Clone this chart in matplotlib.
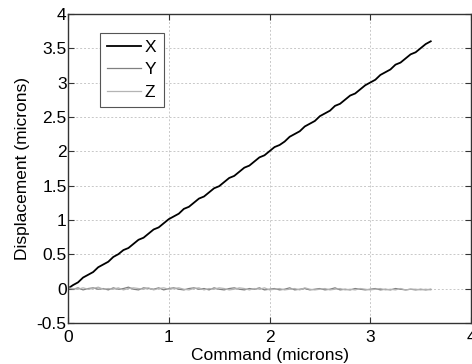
import matplotlib
matplotlib.use("Agg")
import matplotlib.pyplot as plt

plt.rcParams['font.family'] = ['Liberation Sans', 'DejaVu Sans']

# command in microns
command = [0.00, 0.05, 0.10, 0.15, 0.20, 0.25, 0.30, 0.35, 0.40, 0.45,
           0.50, 0.55, 0.60, 0.65, 0.70, 0.75, 0.80, 0.85, 0.90, 0.95,
           1.00, 1.05, 1.10, 1.15, 1.20, 1.25, 1.30, 1.35, 1.40, 1.45,
           1.50, 1.55, 1.60, 1.65, 1.70, 1.75, 1.80, 1.85, 1.90, 1.95,
           2.00, 2.05, 2.10, 2.15, 2.20, 2.25, 2.30, 2.35, 2.40, 2.45,
           2.50, 2.55, 2.60, 2.65, 2.70, 2.75, 2.80, 2.85, 2.90, 2.95,
           3.00, 3.05, 3.10, 3.15, 3.20, 3.25, 3.30, 3.35, 3.40, 3.45,
           3.50, 3.55, 3.60]

disp_x = [0.00, 0.05, 0.09, 0.16, 0.20, 0.24, 0.31, 0.35, 0.39, 0.46,
          0.50, 0.56, 0.59, 0.65, 0.71, 0.74, 0.80, 0.86, 0.89, 0.95,
          1.01, 1.05, 1.09, 1.16, 1.19, 1.25, 1.31, 1.34, 1.40, 1.46,
          1.49, 1.55, 1.61, 1.64, 1.70, 1.76, 1.79, 1.85, 1.91, 1.94,
          2.00, 2.06, 2.09, 2.14, 2.21, 2.25, 2.29, 2.36, 2.40, 2.44,
          2.51, 2.55, 2.59, 2.66, 2.69, 2.75, 2.81, 2.84, 2.90, 2.96,
          3.00, 3.04, 3.11, 3.15, 3.19, 3.26, 3.29, 3.35, 3.41, 3.44,
          3.50, 3.56, 3.60]

disp_y = [0.00, -0.01, 0.01, -0.02, 0.00, 0.01, -0.01, 0.00, -0.02, 0.01,
          -0.01, 0.00, 0.02, -0.01, -0.02, 0.01, 0.00, -0.01, 0.01, -0.02,
          0.00, 0.01, -0.01, -0.02, 0.00, 0.01, -0.01, 0.00, -0.02, 0.01,
          -0.01, -0.02, 0.00, 0.01, -0.01, -0.02, 0.00, -0.01, 0.01, -0.02,
          -0.01, 0.00, -0.02, -0.01, 0.01, -0.02, -0.01, 0.00, -0.02, -0.01,
          0.00, -0.02, -0.01, 0.01, -0.02, -0.01, -0.02, 0.00, -0.01, -0.02,
          -0.01, 0.00, -0.02, -0.01, -0.02, 0.00, -0.01, -0.02, -0.01, -0.02,
          -0.01, -0.02, -0.01]

disp_z = [0.01, 0.00, -0.01, 0.01, -0.01, 0.00, 0.02, -0.01, 0.00, -0.01,
          0.01, -0.02, 0.00, 0.01, 0.00, -0.01, 0.01, -0.02, 0.00, 0.01,
          -0.01, 0.00, 0.01, -0.01, -0.02, 0.00, 0.01, -0.02, 0.00, -0.01,
          0.01, 0.00, -0.02, -0.01, 0.01, 0.00, -0.02, 0.00, -0.01, 0.01,
          -0.02, -0.01, 0.00, -0.02, -0.01, 0.00, -0.02, 0.01, -0.01, -0.02,
          -0.01, 0.00, -0.02, -0.01, 0.00, -0.02, -0.01, -0.02, 0.00, -0.01,
          -0.02, -0.01, 0.00, -0.02, -0.01, -0.02, 0.00, -0.02, -0.01, -0.01,
          -0.02, -0.01, -0.02]

fig = plt.figure(figsize=(4.72, 3.64), dpi=100)
ax = fig.add_axes([0.144, 0.113, 0.854, 0.849])

ax.plot(command, disp_x, color="black", lw=1.3, label="X")
ax.plot(command, disp_y, color="#808080", lw=0.9, label="Y")
ax.plot(command, disp_z, color="#b4b4b4", lw=0.9, label="Z")

ax.set_xlim(0, 4)
ax.set_ylim(-0.5, 4)
ax.set_xticks([0, 1, 2, 3, 4])
ax.set_yticks([-0.5, 0, 0.5, 1, 1.5, 2, 2.5, 3, 3.5, 4])
ax.set_yticklabels(["-0.5", "0", "0.5", "1", "1.5", "2", "2.5", "3", "3.5", "4"])
ax.grid(True, color="#c8c8c8", linestyle=(0, (2, 2)), lw=0.7)
ax.tick_params(direction="in", top=True, right=True, length=4, labelsize=12.5,
               color="#333333")
ax.tick_params(axis="y", pad=1)
ax.tick_params(axis="x", pad=5)
for s in ax.spines.values():
    s.set_color("#333333")
    s.set_linewidth(1.0)

ax.set_xlabel("Command (microns)", fontsize=12.5, labelpad=2)
ax.set_ylabel("Displacement (microns)", fontsize=12.5, labelpad=5)

leg = ax.legend(loc="upper left", bbox_to_anchor=(0.079, 0.939), fontsize=12.5,
                fancybox=False, framealpha=1, edgecolor="#555555",
                handlelength=2.0, handletextpad=0.2, labelspacing=0.42,
                borderpad=0.4, borderaxespad=0)
leg.get_frame().set_linewidth(0.8)

fig.savefig("out.png", dpi=100)
